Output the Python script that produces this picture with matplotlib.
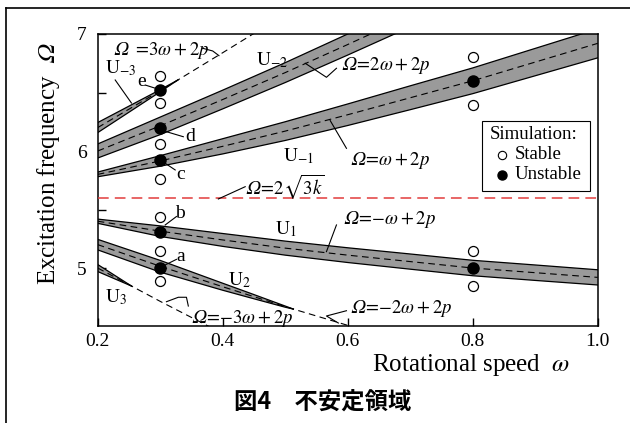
import numpy as np
import matplotlib
matplotlib.use("Agg")
import matplotlib.pyplot as plt
from matplotlib.lines import Line2D
from matplotlib.patches import Rectangle

plt.rcParams["font.family"] = ["Liberation Serif", "DejaVu Serif"]
plt.rcParams["mathtext.fontset"] = "stix"

# rotational speed samples and the term 2p(omega)
omega = [0.2, 0.3, 0.4, 0.5, 0.6, 0.7, 0.8, 0.9, 1.0]
two_p = [5.60, 5.615, 5.64, 5.67, 5.71, 5.755, 5.80, 5.86, 5.92]

# resonance orders n in Omega = n*omega + 2p
orders = [3, 2, 1, -1, -2, -3]

# half-widths of the unstable regions (Omega units)
um3_omega = [0.2, 0.25, 0.3, 0.328]
um3_half = [0.043, 0.026, 0.009, 0.0]
um2_omega = [0.2, 0.3, 0.4, 0.5, 0.6, 0.7]
um2_half = [0.06, 0.075, 0.08, 0.085, 0.09, 0.095]
um1_omega = omega
um1_half = [0.02, 0.045, 0.065, 0.08, 0.092, 0.102, 0.11, 0.117, 0.124]
u1_omega = omega
u1_half = [0.018, 0.045, 0.055, 0.06, 0.063, 0.065, 0.066, 0.066, 0.065]
u2_omega = [0.2, 0.3, 0.4, 0.45, 0.5, 0.513]
u2_half = [0.045, 0.05, 0.03, 0.018, 0.005, 0.0]
u3_omega = [0.2, 0.254]
u3_half = [0.03, 0.0]

# limit 2*sqrt(3k)
omega_limit = 5.6

# simulation results
stable_w = [0.3, 0.3, 0.3, 0.3, 0.3, 0.3, 0.3, 0.8, 0.8, 0.8, 0.8]
stable_W = [6.644, 6.413, 6.06, 5.761, 5.433, 5.148, 4.889, 6.80, 6.393, 5.148, 4.849]
unstable_w = [0.3, 0.3, 0.3, 0.3, 0.3, 0.8, 0.8]
unstable_W = [6.521, 6.20, 5.923, 5.31, 5.003, 6.598, 5.003]

W, H = 630, 423
fig = plt.figure(figsize=(W / 100, H / 100), dpi=100)
ax = fig.add_axes([97.7 / W, 1 - 325.7 / H, 500 / W, (325.7 - 34) / H])

grid = np.array(omega)
tp = np.array(two_p)


def centre(w, n):
    w = np.asarray(w, dtype=float)
    return n * w + np.interp(w, grid, tp)


bands = [(3, um3_omega, um3_half), (2, um2_omega, um2_half), (1, um1_omega, um1_half),
         (-1, u1_omega, u1_half), (-2, u2_omega, u2_half), (-3, u3_omega, u3_half)]
for n, bw, bh in bands:
    c = centre(bw, n)
    h = np.asarray(bh)
    ax.fill_between(bw, c - h, c + h, facecolor="#9a9a9a", edgecolor="none", zorder=2)
    ax.plot(bw, c + h, color="black", lw=0.9, zorder=3)
    ax.plot(bw, c - h, color="black", lw=0.9, zorder=3)

for n in orders:
    ax.plot(grid, n * grid + tp, color="black", lw=0.8, ls=(0, (6, 4)), zorder=4)

ax.axhline(omega_limit, color="#e23c3c", lw=1.1, ls=(0, (7, 4)), zorder=4)

ax.plot(stable_w, stable_W, "o", ms=7.2, mfc="white", mec="black", mew=0.9, zorder=6, clip_on=False)
ax.plot(unstable_w, unstable_W, "o", ms=8, mfc="black", mec="black", zorder=6, clip_on=False)

ax.set_xlim(0.2, 1.0)
ax.set_ylim(4.507, 7.0)
ax.set_xticks([0.2, 0.4, 0.6, 0.8, 1.0])
ax.set_xticklabels(["0.2", "0.4", "0.6", "0.8", "1.0"])
ax.set_yticks([5, 6, 7])
ax.set_yticks([5.5, 6.5], minor=True)
ax.tick_params(axis="both", which="both", direction="in", length=5.5, width=1.0,
               labelsize=14, top=False, right=False)
ax.tick_params(axis="x", pad=5)
ax.tick_params(axis="y", pad=8)
for s in ax.spines.values():
    s.set_linewidth(1.1)

OM = "\U0001D6FA"  # mathematical italic capital omega
txt = dict(fontsize=13.5, va="center", ha="left", zorder=7)
ax.text(0.2245, 6.863, "$" + OM + r"\ =\!3\omega+2p$", **txt)
ax.text(0.212, 6.71, r"$\mathrm{U}_{-3}$", fontsize=14, va="center", ha="left")
ax.text(0.270, 6.59, "e", fontsize=14, va="center", ha="center")
ax.text(0.453, 6.78, r"$\mathrm{U}_{-2}$", fontsize=14, va="center", ha="left")
ax.text(0.590, 6.735, "$" + OM + r"\!=\!2\omega+2p$", **txt)
ax.text(0.348, 6.122, "d", fontsize=14, va="center", ha="center")
ax.text(0.332, 5.795, "c", fontsize=14, va="center", ha="center")
ax.text(0.497, 5.96, r"$\mathrm{U}_{-1}$", fontsize=14, va="center", ha="left")
ax.text(0.604, 5.923, "$" + OM + r"\!=\!\omega+2p$", **txt)
ax.text(0.436, 5.695, "$" + OM + r"\!=\!2\sqrt{3k}$", **txt)
ax.text(0.332, 5.468, "b", fontsize=14, va="center", ha="center")
ax.text(0.484, 5.33, r"$\mathrm{U}_{1}$", fontsize=14, va="center", ha="left")
ax.text(0.593, 5.416, "$" + OM + r"\!=\!{-}\omega+2p$", **txt)
ax.text(0.332, 5.097, "a", fontsize=14, va="center", ha="center")
ax.text(0.409, 4.90, r"$\mathrm{U}_{2}$", fontsize=14, va="center", ha="left")
ax.text(0.212, 4.755, r"$\mathrm{U}_{3}$", fontsize=14, va="center", ha="left")
ax.text(0.350, 4.57, "$" + OM + r"\!=\!{-}3\omega+2p$", **txt)
ax.text(0.604, 4.655, "$" + OM + r"\!=\!{-}2\omega+2p$", **txt)

leaders = [
    [(0.368, 6.878), (0.384, 6.855), (0.394, 6.815)],
    [(0.228, 6.607), (0.254, 6.41)],
    [(0.276, 6.564), (0.296, 6.53)],
    [(0.582, 6.707), (0.566, 6.63), (0.532, 6.75)],
    [(0.310, 6.165), (0.337, 6.122)],
    [(0.308, 5.895), (0.324, 5.838)],
    [(0.598, 6.023), (0.572, 6.26)],
    [(0.436, 5.695), (0.393, 5.59)],
    [(0.308, 5.368), (0.326, 5.44)],
    [(0.582, 5.368), (0.566, 5.14)],
    [(0.308, 5.026), (0.326, 5.074)],
    [(0.345, 4.675), (0.342, 4.75), (0.329, 4.75), (0.310, 4.712)],
    [(0.598, 4.635), (0.566, 4.59), (0.585, 4.53)],
]
for seg in leaders:
    xs, ys = zip(*seg)
    ax.plot(xs, ys, color="black", lw=0.8, zorder=5)

# legend box
ax.add_patch(Rectangle((0.8144, 5.661), 0.1733, 0.595, facecolor="white",
                       edgecolor="black", lw=0.8, zorder=8))
ax.text(0.8277, 6.137, "Simulation:", fontsize=13.5, va="center", ha="left", zorder=9)
ax.plot([0.8464], [5.966], "o", ms=6, mfc="white", mec="black", mew=0.8, zorder=9)
ax.plot([0.8464], [5.795], "o", ms=6.5, mfc="black", mec="black", zorder=9)
ax.text(0.8677, 5.966, "Stable", fontsize=13.5, va="center", ha="left", zorder=9)
ax.text(0.8677, 5.795, "Unstable", fontsize=13.5, va="center", ha="left", zorder=9)

fig.text(48 / W, 1 - 163.5 / H, "Excitation frequency  $" + OM + "$", fontsize=18,
         rotation=90, ha="center", va="center")
fig.text(371.7 / W, 1 - 370.7 / H, r"Rotational speed  $\omega$", fontsize=18,
         ha="left", va="baseline")
fig.text(322.5 / W, 1 - 403 / H, "図4　不安定領域", fontsize=16.8, fontweight="bold",
         family=["Noto Sans CJK JP", "DejaVu Sans"], ha="center", va="center")

# outer frame
fig.add_artist(Line2D([6 / W, 1.02], [1 - 8 / H, 1 - 8 / H], color="black", lw=1.2,
                      transform=fig.transFigure))
fig.add_artist(Line2D([6 / W, 6 / W], [-0.02, 1 - 8 / H], color="black", lw=1.2,
                      transform=fig.transFigure))

fig.savefig("out.png", dpi=100)
